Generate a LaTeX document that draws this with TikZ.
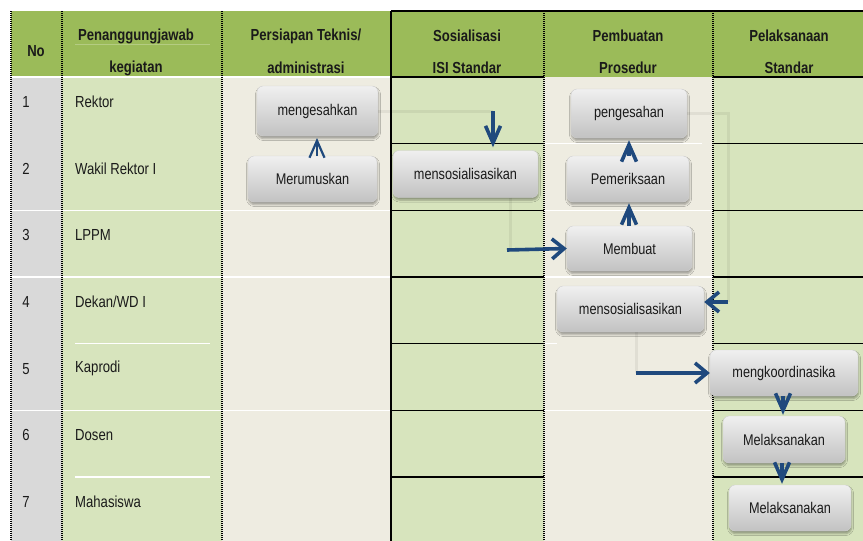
\documentclass[tikz,border=0pt]{standalone}
\usepackage{fontspec}
\setmainfont{Liberation Sans}[FakeStretch=0.82]
\usetikzlibrary{arrows.meta,shadows.blur,calc}
\definecolor{hdr}{HTML}{9BBB59}
\definecolor{lg}{HTML}{D7E4BD}
\definecolor{bg}{HTML}{EEECE1}
\definecolor{gr}{HTML}{D9D9D9}
\definecolor{ab}{HTML}{1F497D}
\definecolor{tx}{HTML}{1A1A1A}
\begin{document}
\begin{tikzpicture}[x=1pt,y=-1pt,
  dotv/.style={line width=1.8pt, dash pattern=on 1.2pt off 0.8pt},
  blk/.style={line width=1.4pt},
  wht/.style={white, line width=1.3pt},
  faint/.style={draw=black, opacity=0.06, line width=3pt},
  arrh/.style={draw=ab, line width=3.6pt, -{Straight Barb[length=12pt,width=20pt]}},
  arrv/.style={draw=ab, line width=3.6pt, -{Straight Barb[length=17pt,width=15pt]}},
  hd/.style={font=\bfseries\fontsize{16}{18}\selectfont, text=tx, inner sep=0},
  cell/.style={font=\fontsize{16}{18}\selectfont, text=tx, inner sep=0},
  box/.style={draw=black!18, rounded corners=6pt, top color=black!6, bottom color=black!24,
    inner sep=0, font=\fontsize{15.5}{18}\selectfont, text=tx,
    blur shadow={shadow xshift=0.5pt, shadow yshift=-2.5pt, shadow opacity=35, shadow blur radius=2pt}}
]
\useasboundingbox (0,0) rectangle (863,541);
% backgrounds
\fill[hdr] (11,11) rectangle (863,77);
\fill[gr] (11,77) rectangle (62,541);
\fill[lg] (62,77) rectangle (222,541);
\fill[bg] (222,77) rectangle (391,541);
\fill[lg] (391,77) rectangle (544,541);
\fill[bg] (544,77) rectangle (713,541);
\fill[lg] (713,77) rectangle (863,541);
% faint header lines
\draw[white, opacity=0.25, line width=1pt] (75,44) -- (210,44) (75,76) -- (210,76);
% white lines left part
\draw[wht] (11,77) -- (391,77);
\foreach \yy in {210.3,277,410.3} \draw[wht] (11,\yy) -- (391,\yy);
\foreach \yy in {343.6,477} \draw[wht] (75,\yy) -- (210,\yy);
% white lines Pembuatan column
\draw[wht] (544,143.6) -- (702,143.6);
\foreach \yy in {210.3,277,410.3} \draw[wht] (544,\yy) -- (713,\yy);
\draw[wht] (544,343.6) -- (557,343.6);
% black lines
\foreach \yy in {143.6,210.3,277,343.6,410.3,477} {
  \draw[blk] (391,\yy) -- (544,\yy);
  \draw[blk] (713,\yy) -- (863,\yy);
}
\draw[line width=2pt] (391,77) -- (544,77) (713,77) -- (863,77);
\draw[line width=1.5pt] (391,11) -- (863,11);
% vertical lines
\foreach \xx in {11,62,222,544,713} \draw[dotv] (\xx,11) -- (\xx,541);
\draw[line width=1.5pt] (391,11) -- (391,541);
% header text
\node[hd] (hno) at (36,51) {No};
\node[hd] (hpa) at (136,36) {Penanggungjawab};
\node[hd] (hpb) at (136,68) {kegiatan};
\node[hd] (hta) at (306,36) {Persiapan Teknis/};
\node[hd] (htb) at (306,68) {administrasi};
\node[hd] (hsa) at (467,36) {Sosialisasi};
\node[hd] (hsb) at (467,68) {ISI Standar};
\node[hd] (hba) at (628,36) {Pembuatan};
\node[hd] (hbb) at (628,68) {Prosedur};
\node[hd] (hla) at (789,36) {Pelaksanaan};
\node[hd] (hlb) at (789,68) {Standar};
% rows
\node[cell] (n1) at (26,102) {1};   \node[cell, anchor=west] (r1) at (75,102) {Rektor};
\node[cell] (n2) at (26,168.7) {2}; \node[cell, anchor=west] (r2) at (75,168.7) {Wakil Rektor I};
\node[cell] (n3) at (26,235.3) {3}; \node[cell, anchor=west] (r3) at (75,235.3) {LPPM};
\node[cell] (n4) at (26,302) {4};   \node[cell, anchor=west] (r4) at (75,302) {Dekan/WD I};
\node[cell] (n5) at (26,368.7) {5}; \node[cell, anchor=west] (r5) at (75,368.7) {Kaprodi};
\node[cell] (n6) at (26,435.3) {6}; \node[cell, anchor=west] (r6) at (75,435.3) {Dosen};
\node[cell] (n7) at (26,502) {7};   \node[cell, anchor=west] (r7) at (75,502) {Mahasiswa};
% coordinates for connectors
\coordinate (c1) at (493,111);
\coordinate (c2) at (510,248.5);
\coordinate (c3a) at (728,113.5);
\coordinate (c3) at (728,302);
\coordinate (c4) at (636,373);
% boxes
\node[box, minimum width=121pt, minimum height=50pt] (b1) at (317.5,111) {mengesahkan};
\node[box, minimum width=129pt, minimum height=46pt] (b2) at (312.5,179) {Merumuskan};
\node[box, minimum width=145pt, minimum height=47pt] (b3) at (465.5,174) {mensosialisasikan};
\node[box, minimum width=116pt, minimum height=49pt] (b4) at (629,113.5) {pengesahan};
\node[box, minimum width=122pt, minimum height=46pt] (b5) at (628,179) {Pemeriksaan};
\node[box, minimum width=125pt, minimum height=45pt] (b6) at (629.5,248.5) {Membuat};
\node[box, minimum width=147pt, minimum height=46pt] (b7) at (630.5,309) {mensosialisasikan};
\node[box, minimum width=148pt, minimum height=46pt] (b8) at (784,373) {mengkoordinasika};
\node[box, minimum width=122pt, minimum height=47pt] (b9) at (784,439.5) {Melaksanakan};
\node[box, minimum width=122pt, minimum height=46pt] (b10) at (790,508) {Melaksanakan};
% faint connector traces
\draw[faint] (b1.east) -- (c1);
\draw[faint] (b3.south -| c2) -- (c2);
\draw[faint] (b4.east) -- (c3a) -- (c3);
\draw[faint] (b7.south -| c4) -- (c4);
% arrows
\draw[draw=ab, line width=2.2pt, -{Straight Barb[length=17pt,width=15pt]}] (b2.north -| 317,0) -- (317,138);
\draw[arrv] (c1) -- ($(c1 |- b3.north)+(0,-3)$);
\draw[arrh] ($(c2)+(-3,1.5)$) -- (b6.west);
\draw[arrv] (b5.north -| 629,0) -- ($(b4.south -| 629,0)+(0,2)$);
\draw[arrv] (b6.north -| 629,0) -- ($(b5.south -| 629,0)+(0,1)$);
\draw[arrh] (c3) -- (c3 -| b7.east);
\draw[arrh] (c4) -- (b8.west);
\draw[arrv] (b8.south -| 783,0) -- ($(b9.north -| 783,0)+(0,-1)$);
\draw[arrv] (b9.south -| 782,0) -- ($(b10.north -| 782,0)+(0,-1)$);
\end{tikzpicture}
\end{document}
